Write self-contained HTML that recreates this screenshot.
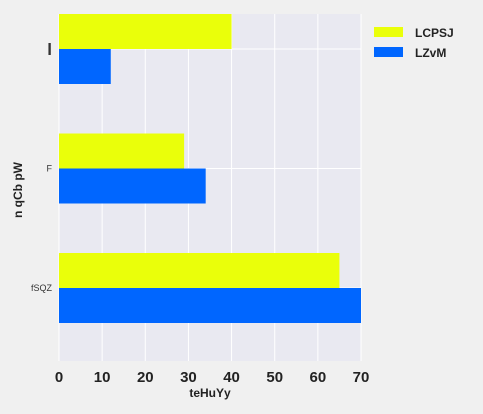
<!DOCTYPE html>
<html><head><meta charset="utf-8"><style>
html,body{margin:0;padding:0;background:#f0f0f0;}
svg{display:block;font-family:"Liberation Sans",sans-serif;}
</style></head><body>
<svg id="chart" width="483" height="414">
<rect x="59" y="14" width="302" height="347" fill="#e9e9f1"/>
<g id="grid"></g><g id="bars"></g><g id="ticks"></g>
<text x="210" y="397" text-anchor="middle" font-size="12" font-weight="bold" fill="#222">teHuYy</text>
<text transform="translate(22,190) rotate(-90)" text-anchor="middle" font-size="12" font-weight="bold" fill="#222">n qCb pW</text>
<g>
<rect x="374" y="27" width="29" height="10" fill="#eaff0a"/>
<text x="415" y="37" font-size="12" font-weight="bold" fill="#222">LCPSJ</text>
<rect x="374" y="47" width="29" height="10" fill="#0066ff"/>
<text x="415" y="57" font-size="12" font-weight="bold" fill="#222">LZvM</text>
</g>
</svg>
<script>
const categories = ["l", "F", "fSQZ"];
const catFontSizes = [17, 9, 9];
const seriesLCPSJ = [40, 29, 65];
const seriesLZvM = [12, 34, 70];
const xTicks = [0, 10, 20, 30, 40, 50, 60, 70];
const NS = "http://www.w3.org/2000/svg";
const x0 = 59, x1 = 361, xMax = 70;
const xs = v => x0 + (v / xMax) * (x1 - x0);
const yc = i => 49 + i * 119.5;
const bh = 35;
const grid = document.getElementById('grid'), bars = document.getElementById('bars'), ticks = document.getElementById('ticks');
function mk(tag, attrs, parent){const e=document.createElementNS(NS,tag);for(const k in attrs)e.setAttribute(k,attrs[k]);parent.appendChild(e);return e;}
xTicks.forEach(t => {
  const l = mk('line', {x1: xs(t), x2: xs(t), y1: 14, y2: 361, stroke: '#fff', 'stroke-width': 1}, grid);
  
  
  const tx = mk('text', {x: xs(t), y: 382, 'text-anchor': 'middle', 'font-size': 15, 'font-weight': 'bold', fill: '#222'}, ticks);
  tx.textContent = t;
  
  
});
categories.forEach((c, i) => {
  const l = mk('line', {x1: x0, x2: x1, y1: yc(i), y2: yc(i), stroke: '#fff', 'stroke-width': 1}, grid);
  
  
  const a = mk('rect', {x: x0, y: yc(i) - bh, width: xs(seriesLCPSJ[i]) - x0, height: bh, fill: '#eaff0a'}, bars);
  
  
  const b = mk('rect', {x: x0, y: yc(i), width: xs(seriesLZvM[i]) - x0, height: bh, fill: '#0066ff'}, bars);
  
  
  const tx = mk('text', {x: 52, y: yc(i) + catFontSizes[i] * 0.35, 'text-anchor': 'end', 'font-size': catFontSizes[i], 'font-weight': i === 0 ? 'bold' : 'normal', fill: '#333'}, ticks);
  tx.textContent = c;
  
  
});
</script>
</body></html>
